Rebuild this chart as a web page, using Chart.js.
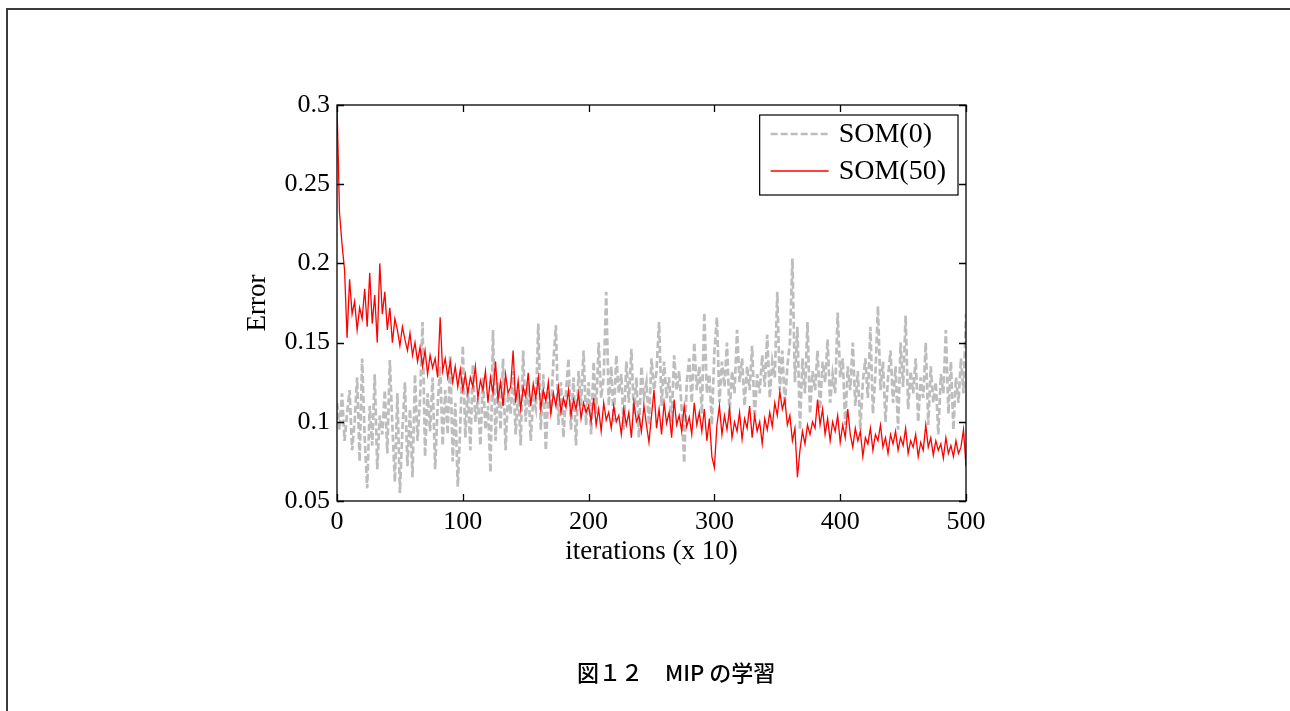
<!DOCTYPE html>
<html>
<head>
<meta charset="utf-8">
<script src="https://cdn.jsdelivr.net/npm/chart.js@4.4.1/dist/chart.umd.min.js"></script>
<style>
  html, body { margin:0; padding:0; background:#fff; }
  body { width:1290px; height:711px; position:relative; overflow:hidden; }
  #page-frame { position:absolute; left:6px; top:8px; right:0; bottom:0; border-top:2px solid #3a3a3a; border-left:2px solid #3a3a3a; }
  #chart { position:absolute; left:0; top:0; }
  #caption { position:absolute; left:577px; top:660px; font-family:"Noto Sans CJK JP", sans-serif; font-size:22px; font-weight:500; line-height:22px; color:#000; white-space:pre; }
</style>
</head>
<body>
<div id="page-frame"></div>
<canvas id="chart" width="1290" height="711"></canvas>
<div id="caption">図１２　MIP の学習</div>
<script>
// ── data (one value every 2 iterations) ──
const ITER_STEP = 2;
const seriesNames = ['SOM(0)', 'SOM(50)'];

const som0 = [
  0.112, 0.095, 0.118, 0.088, 0.105, 0.120, 0.082, 0.100, 0.128, 0.075,
  0.140, 0.090, 0.058, 0.110, 0.085, 0.130, 0.070, 0.104, 0.092, 0.120,
  0.080, 0.139, 0.098, 0.062, 0.118, 0.055, 0.095, 0.125, 0.072, 0.108,
  0.065, 0.130, 0.088, 0.114, 0.163, 0.078, 0.118, 0.094, 0.128, 0.070,
  0.110, 0.135, 0.085, 0.120, 0.092, 0.142, 0.075, 0.112, 0.059, 0.098,
  0.148, 0.090, 0.122, 0.082, 0.136, 0.100, 0.115, 0.085, 0.128, 0.095,
  0.110, 0.068, 0.158, 0.088, 0.125, 0.095, 0.140, 0.082, 0.118, 0.105,
  0.132, 0.092, 0.120, 0.085, 0.145, 0.100, 0.125, 0.088, 0.115, 0.108,
  0.162, 0.095, 0.130, 0.082, 0.120, 0.105, 0.138, 0.161, 0.098, 0.125,
  0.090, 0.118, 0.140, 0.095, 0.128, 0.085, 0.132, 0.110, 0.145, 0.098,
  0.125, 0.092, 0.138, 0.105, 0.150, 0.115, 0.128, 0.182, 0.110, 0.135,
  0.100, 0.142, 0.118, 0.130, 0.095, 0.138, 0.112, 0.146, 0.105, 0.128,
  0.090, 0.135, 0.115, 0.125, 0.098, 0.140, 0.120, 0.132, 0.163, 0.110,
  0.138, 0.115, 0.128, 0.100, 0.142, 0.120, 0.132, 0.108, 0.074, 0.125,
  0.140, 0.112, 0.150, 0.120, 0.135, 0.105, 0.169, 0.118, 0.130, 0.098,
  0.145, 0.166, 0.112, 0.138, 0.122, 0.150, 0.105, 0.132, 0.118, 0.158,
  0.125, 0.140, 0.110, 0.135, 0.120, 0.148, 0.102, 0.130, 0.118, 0.142,
  0.122, 0.155, 0.115, 0.138, 0.128, 0.182, 0.120, 0.145, 0.110, 0.135,
  0.150, 0.203, 0.125, 0.160, 0.095, 0.140, 0.118, 0.163, 0.105, 0.132,
  0.120, 0.145, 0.108, 0.138, 0.125, 0.152, 0.112, 0.130, 0.118, 0.169,
  0.128, 0.140, 0.098, 0.135, 0.120, 0.150, 0.110, 0.132, 0.095, 0.125,
  0.140, 0.115, 0.160, 0.105, 0.130, 0.173, 0.120, 0.138, 0.100, 0.128,
  0.145, 0.112, 0.135, 0.095, 0.150, 0.122, 0.167, 0.108, 0.132, 0.118,
  0.140, 0.100, 0.128, 0.115, 0.150, 0.098, 0.135, 0.112, 0.125, 0.092,
  0.130, 0.118, 0.158, 0.105, 0.138, 0.095, 0.128, 0.112, 0.140, 0.118,
  0.168
];

const som50 = [
  0.300, 0.232, 0.212, 0.196, 0.153, 0.190, 0.168, 0.176, 0.158, 0.172,
  0.165, 0.184, 0.160, 0.194, 0.162, 0.180, 0.150, 0.200, 0.168, 0.182,
  0.158, 0.172, 0.150, 0.165, 0.158, 0.148, 0.160, 0.152, 0.145, 0.156,
  0.142, 0.150, 0.138, 0.147, 0.135, 0.145, 0.130, 0.142, 0.134, 0.140,
  0.128, 0.166, 0.132, 0.140, 0.128, 0.138, 0.125, 0.135, 0.122, 0.133,
  0.120, 0.130, 0.118, 0.128, 0.122, 0.135, 0.115, 0.126, 0.120, 0.132,
  0.112, 0.128, 0.118, 0.138, 0.114, 0.125, 0.110, 0.130, 0.118, 0.122,
  0.145, 0.112, 0.126, 0.108, 0.122, 0.116, 0.131, 0.110, 0.124, 0.115,
  0.128, 0.108, 0.120, 0.113, 0.125, 0.105, 0.118, 0.110, 0.122, 0.106,
  0.115, 0.109, 0.120, 0.104, 0.114, 0.108, 0.118, 0.102, 0.112, 0.106,
  0.110, 0.100, 0.115, 0.098, 0.108, 0.094, 0.112, 0.101, 0.106, 0.096,
  0.110, 0.100, 0.104, 0.092, 0.108, 0.098, 0.106, 0.090, 0.112, 0.100,
  0.104, 0.094, 0.110, 0.098, 0.087, 0.104, 0.120, 0.096, 0.108, 0.092,
  0.112, 0.099, 0.106, 0.090, 0.114, 0.098, 0.104, 0.094, 0.110, 0.097,
  0.103, 0.092, 0.112, 0.098, 0.106, 0.094, 0.108, 0.088, 0.102, 0.078,
  0.071, 0.098, 0.110, 0.092, 0.104, 0.095, 0.108, 0.090, 0.100, 0.094,
  0.106, 0.089, 0.102, 0.096, 0.110, 0.090, 0.104, 0.094, 0.100, 0.086,
  0.102, 0.095, 0.106, 0.097, 0.112, 0.104, 0.119, 0.108, 0.114, 0.098,
  0.104, 0.088, 0.096, 0.065, 0.082, 0.094, 0.086, 0.098, 0.092, 0.100,
  0.096, 0.114, 0.098, 0.108, 0.092, 0.102, 0.088, 0.100, 0.094, 0.104,
  0.087, 0.098, 0.090, 0.108, 0.092, 0.084, 0.096, 0.088, 0.094, 0.078,
  0.090, 0.086, 0.096, 0.082, 0.092, 0.088, 0.098, 0.084, 0.090, 0.080,
  0.092, 0.086, 0.094, 0.082, 0.090, 0.085, 0.096, 0.080, 0.088, 0.084,
  0.092, 0.078, 0.087, 0.082, 0.098, 0.084, 0.090, 0.079, 0.088, 0.082,
  0.086, 0.077, 0.090, 0.080, 0.085, 0.078, 0.088, 0.080, 0.084, 0.095,
  0.072
];

const xTickValues = [0, 100, 200, 300, 400, 500];
const yTickValues = [0.05, 0.1, 0.15, 0.2, 0.25, 0.3];
const yTickLabels = ['0.05', '0.1', '0.15', '0.2', '0.25', '0.3'];

// ── helpers ──
const SERIF = '"Liberation Serif", "Times New Roman", serif';
const toPoints = arr => arr.map((v, i) => ({ x: i * ITER_STEP, y: v }));

// box + inward ticks on all four sides, like the MATLAB axes
const axesBox = {
  id: 'axesBox',
  afterDatasetsDraw(chart) {
    const { ctx, chartArea: a, scales: { x, y } } = chart;
    const tl = 7;
    ctx.save();
    ctx.strokeStyle = '#000';
    ctx.lineWidth = 1.3;
    ctx.strokeRect(a.left, a.top, a.right - a.left, a.bottom - a.top);
    ctx.beginPath();
    x.ticks.forEach(t => {
      const px = Math.round(x.getPixelForValue(t.value)) + 0.5;
      ctx.moveTo(px, a.bottom); ctx.lineTo(px, a.bottom - tl);
      ctx.moveTo(px, a.top);    ctx.lineTo(px, a.top + tl);
    });
    y.ticks.forEach(t => {
      const py = Math.round(y.getPixelForValue(t.value)) + 0.5;
      ctx.moveTo(a.left, py);  ctx.lineTo(a.left + tl, py);
      ctx.moveTo(a.right, py); ctx.lineTo(a.right - tl, py);
    });
    ctx.stroke();
    ctx.restore();
  }
};

// boxed legend in the upper right corner
const boxLegend = {
  id: 'boxLegend',
  afterDraw(chart) {
    const { ctx, chartArea: a } = chart;
    const font = '28px ' + SERIF;
    const lineLen = 58, gap = 10, padL = 11, padR = 12, rowH = 37, padT = 19;
    ctx.save();
    ctx.font = font;
    const textW = Math.max(...chart.data.datasets.map(d => ctx.measureText(d.label).width));
    const w = padL + lineLen + gap + textW + padR;
    const h = padT * 2 + rowH * (chart.data.datasets.length - 1) + 5;
    const bx = a.right - 8 - w, by = a.top + 10;
    ctx.fillStyle = '#fff';
    ctx.fillRect(bx, by, w, h);
    ctx.strokeStyle = '#000';
    ctx.lineWidth = 1.2;
    ctx.strokeRect(bx, by, w, h);
    chart.data.datasets.forEach((d, i) => {
      const ly = by + padT + i * rowH;
      ctx.beginPath();
      ctx.strokeStyle = d.borderColor;
      ctx.lineWidth = d.borderWidth;
      ctx.setLineDash(d.borderDash || []);
      ctx.moveTo(bx + padL, ly);
      ctx.lineTo(bx + padL + lineLen, ly);
      ctx.stroke();
      ctx.setLineDash([]);
      ctx.fillStyle = '#000';
      ctx.textBaseline = 'middle';
      ctx.fillText(d.label, bx + padL + lineLen + gap, ly + 1);
    });
    ctx.restore();
  }
};

new Chart(document.getElementById('chart'), {
  type: 'line',
  data: {
    datasets: [
      { label: seriesNames[0], data: toPoints(som0), borderColor: '#bdbdbd', borderWidth: 2.7,
        borderDash: [7, 3], pointRadius: 0, fill: false, tension: 0, order: 2 },
      { label: seriesNames[1], data: toPoints(som50), borderColor: '#ff0000', borderWidth: 1.3,
        pointRadius: 0, fill: false, tension: 0, order: 1 }
    ]
  },
  options: {
    responsive: false,
    animation: false,
    devicePixelRatio: 1,
    layout: { padding: { left: 237, right: 324, top: 105, bottom: 140 } },
    plugins: { legend: { display: false }, tooltip: { enabled: false } },
    scales: {
      x: {
        type: 'linear', min: 0, max: 500,
        afterBuildTicks: s => { s.ticks = xTickValues.map(v => ({ value: v })); },
        afterFit: s => { s.height = 70; },
        grid: { display: false, drawTicks: false },
        border: { display: false },
        ticks: { padding: 6, color: '#000', font: { family: SERIF, size: 26 }, maxRotation: 0 },
        title: { display: true, text: 'iterations (x 10)', color: '#000',
                 font: { family: SERIF, size: 27 }, padding: { top: 0, bottom: 3 } }
      },
      y: {
        type: 'linear', min: 0.05, max: 0.3,
        afterBuildTicks: s => { s.ticks = yTickValues.map(v => ({ value: v })); },
        afterFit: s => { s.width = 100; },
        grid: { display: false, drawTicks: false },
        border: { display: false },
        ticks: { padding: 7, color: '#000', font: { family: SERIF, size: 26 },
                 callback: (v, i) => yTickLabels[i] },
        title: { display: true, text: 'Error', color: '#000',
                 font: { family: SERIF, size: 27 }, padding: { top: 5, bottom: 0 } }
      }
    }
  },
  plugins: [axesBox, boxLegend]
});
</script>
</body>
</html>
